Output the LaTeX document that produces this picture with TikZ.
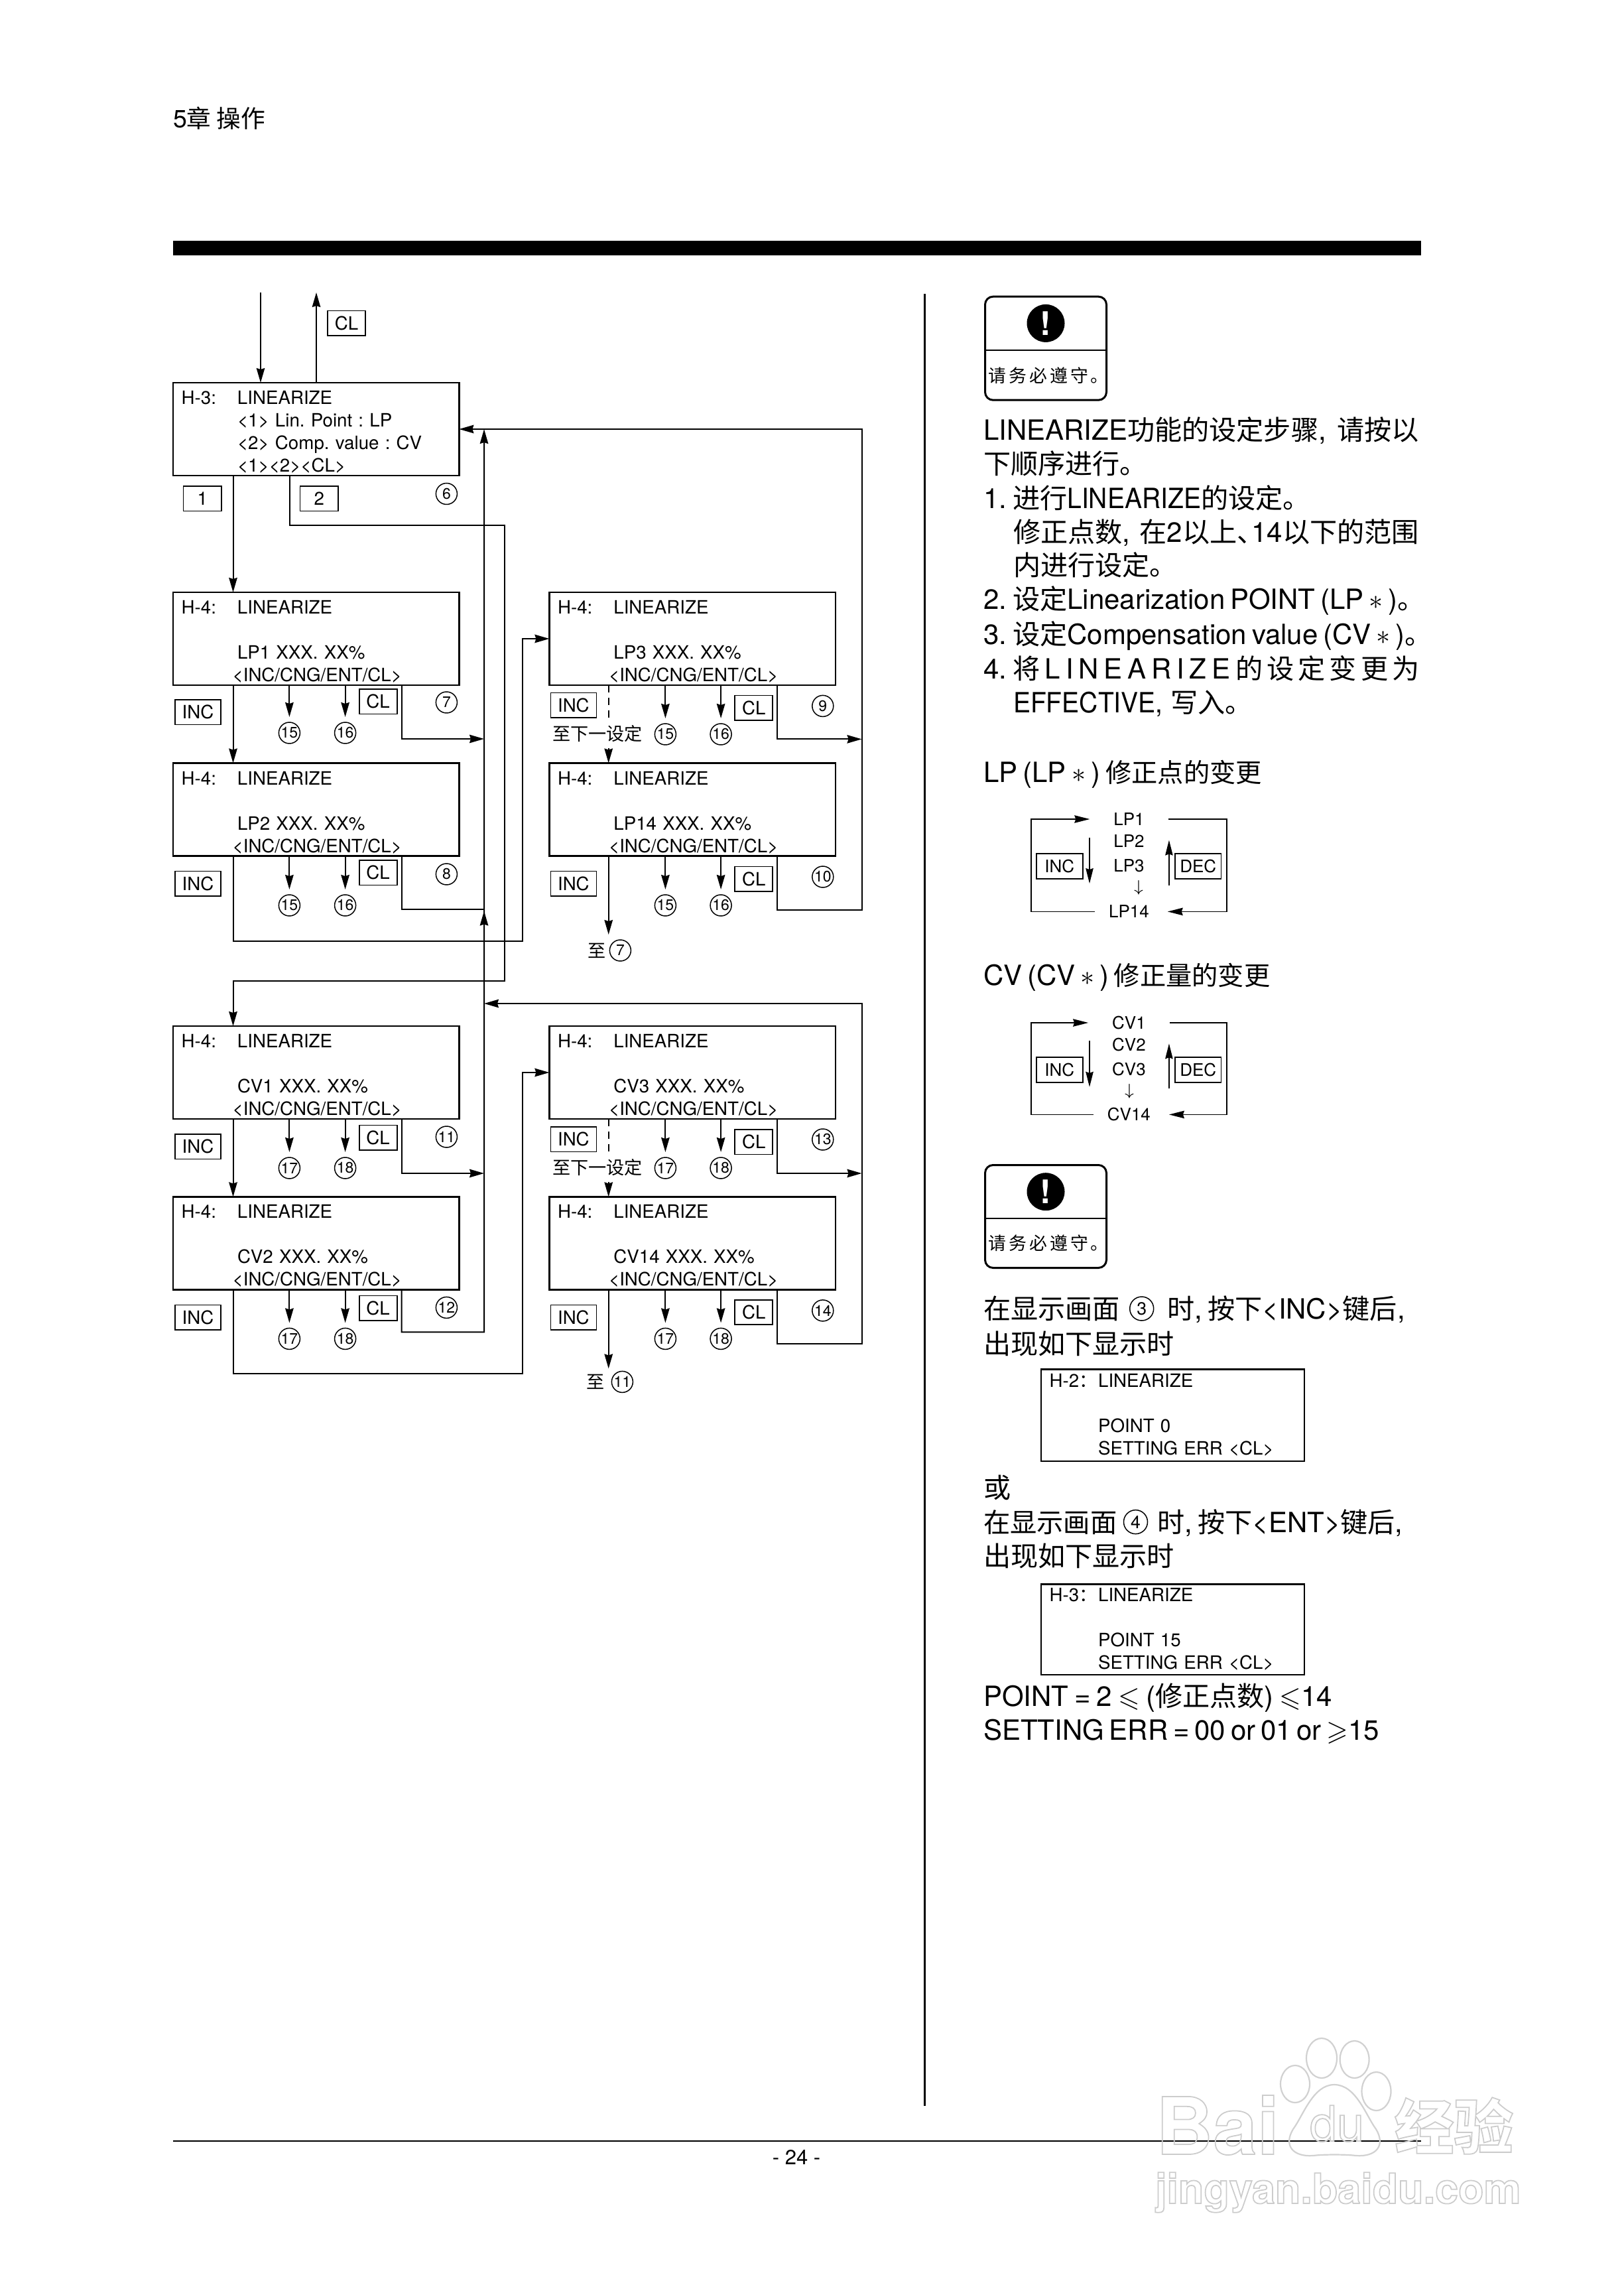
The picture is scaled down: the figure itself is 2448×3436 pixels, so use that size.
\documentclass[tikz,border=0pt]{standalone}
\usepackage{amsmath,amssymb}
\usepackage{fontspec}
\setmainfont{TeX Gyre Heros}
\newfontfamily\condfont[FakeStretch=0.93]{TeX Gyre Heros}
\newfontfamily\cjkfont[Scale=0.98]{Noto Sans CJK SC}
\newcommand{\zh}[1]{{\cjkfont #1}}
\newcommand{\zhs}[1]{{\cjkfont\fontsize{11.4pt}{14pt}\selectfont #1}}
\newcommand{\narrow}[1]{{\condfont #1}}
\newcommand{\fitline}[2]{\makebox[#1][s]{#2}}
\newcommand{\listno}[1]{\makebox[4.4mm][l]{#1}}
\newcommand{\hollow}[1]{\special{pdf:code 1 Tr 0.5 w 0.8 G}#1\special{pdf:code 0 Tr 0 G}}
\usetikzlibrary{arrows.meta,positioning}
\frenchspacing

\begin{document}
\begin{tikzpicture}[
  x=.1mm, y=-.1mm,
  lcdbox/.style={draw, line width=.24mm, inner sep=0pt, inner xsep=1.27mm, outer sep=0pt,
    minimum height=14mm, text width=40.6mm, align=left,
    font=\fontsize{7.88pt}{9.67pt}\selectfont},
  screen/.style={lcdbox, execute at begin node={\rule{0pt}{2.9mm}}},
  errscreen/.style={lcdbox, anchor=north west, text width=37.16mm},
  keybox/.style={draw, line width=.18mm, inner sep=0pt, outer sep=0pt,
    minimum height=3.75mm, font=\fontsize{7.88pt}{9.67pt}\selectfont},
  inckey/.style={keybox, minimum width=6.9mm},
  clkey/.style={keybox, minimum width=5.7mm},
  ringkey/.style={keybox, minimum width=6.96mm, minimum height=3.8mm,
    font=\fontsize{7.4pt}{9pt}\selectfont},
  numcirc/.style={draw, circle, line width=.15mm, inner sep=0pt, outer sep=0pt,
    minimum size=3.2mm, font=\fontsize{6.54pt}{7pt}\selectfont},
  bigcirc/.style={numcirc, minimum size=3.6mm, font=\fontsize{7.6pt}{8pt}\selectfont},
  note/.style={inner sep=0pt, outer sep=0pt, font=\fontsize{7.88pt}{9.67pt}\selectfont},
  ringtext/.style={inner sep=0pt, outer sep=0pt, font=\fontsize{7.4pt}{9pt}\selectfont},
  bodytext/.style={anchor=base west, inner sep=0pt, outer sep=0pt,
    font=\fontsize{11.95pt}{14pt}\selectfont},
  warnbox/.style={draw, line width=.3mm, rounded corners=1.2mm, inner sep=0pt,
    minimum width=18.3mm},
  warnline/.style={line width=.2mm},
  warndot/.style={circle, fill=black, inner sep=0pt, minimum size=5.7mm, text=white,
    font=\bfseries\fontsize{14pt}{14pt}\selectfont},
  warntext/.style={inner sep=0pt, minimum height=2.8mm, font=\fontsize{7.8pt}{9pt}\selectfont},
  flow/.style={-{Stealth[length=2.2mm,width=1.25mm,inset=.2mm]}, line width=.2mm},
  wire/.style={line width=.2mm},
  stub/.style={flow, shorten >=.8mm},
  dashwire/.style={line width=.2mm, dash pattern=on 1.1mm off .8mm},
  ringflow/.style={-{Stealth[length=2.3mm,width=1.15mm,inset=.2mm]}, line width=.13mm},
  wmark/.style={draw=black!18, line width=.22mm}
]
\useasboundingbox (0,0) rectangle (2448,3436);

\node[bodytext, font=\fontsize{10.66pt}{12pt}\selectfont] (chap) at (261,193) {5\zh{章 操作}};
\fill (261,363) rectangle (2143,385);
\draw[line width=.3mm] (1394,443) -- (1394,3175);
\draw[line width=.22mm] (261,3228) -- (2143,3228);
\node[inner sep=0pt, font=\fontsize{8.82pt}{10pt}\selectfont] (pageno) at (1201,3252) {- 24 -};

\coordinate (inleg) at (393,441);
\coordinate (outleg) at (477,441);
\coordinate (cola) at (351.5,0);
\coordinate (colb) at (436.5,0);
\coordinate (colc) at (605.5,0);
\coordinate (cold) at (917.7,0);
\coordinate (cole) at (1171.6,0);
\coordinate (busa) at (730,0);

\node[screen, anchor=north west] (hmenu) at (261,577)
  {\makebox[8.43mm][l]{H-3:}LINEARIZE\\
   \hspace*{8.43mm}<1> Lin. Point : LP\\
   \hspace*{8.43mm}<2> Comp. value : CV\\
   \hspace*{8.43mm}<1><2><CL>};
\node[screen, below=17.6mm of hmenu] (lpa)
  {\makebox[8.43mm][l]{H-4:}LINEARIZE\\[3.4mm]
   \hspace*{8.43mm}LP1 XXX. XX\%\\
   \hspace*{7.7mm}<INC/CNG/ENT/CL>};
\node[screen, below=11.75mm of lpa] (lpb)
  {\makebox[8.43mm][l]{H-4:}LINEARIZE\\[3.4mm]
   \hspace*{8.43mm}LP2 XXX. XX\%\\
   \hspace*{7.7mm}<INC/CNG/ENT/CL>};
\node[screen, right=13.6mm of lpa] (lpc)
  {\makebox[8.43mm][l]{H-4:}LINEARIZE\\[3.4mm]
   \hspace*{8.43mm}LP3 XXX. XX\%\\
   \hspace*{7.7mm}<INC/CNG/ENT/CL>};
\node[screen, below=11.75mm of lpc] (lpd)
  {\makebox[8.43mm][l]{H-4:}LINEARIZE\\[3.4mm]
   \hspace*{8.43mm}LP14 XXX. XX\%\\
   \hspace*{7.7mm}<INC/CNG/ENT/CL>};
\node[screen, anchor=north west] (cva) at (261,1547)
  {\makebox[8.43mm][l]{H-4:}LINEARIZE\\[3.4mm]
   \hspace*{8.43mm}CV1 XXX. XX\%\\
   \hspace*{7.7mm}<INC/CNG/ENT/CL>};
\node[screen, below=11.74mm of cva] (cvb)
  {\makebox[8.43mm][l]{H-4:}LINEARIZE\\[3.4mm]
   \hspace*{8.43mm}CV2 XXX. XX\%\\
   \hspace*{7.7mm}<INC/CNG/ENT/CL>};
\node[screen, right=13.6mm of cva] (cvc)
  {\makebox[8.43mm][l]{H-4:}LINEARIZE\\[3.4mm]
   \hspace*{8.43mm}CV3 XXX. XX\%\\
   \hspace*{7.7mm}<INC/CNG/ENT/CL>};
\node[screen, below=11.74mm of cvc] (cvd)
  {\makebox[8.43mm][l]{H-4:}LINEARIZE\\[3.4mm]
   \hspace*{8.43mm}CV14 XXX. XX\%\\
   \hspace*{7.7mm}<INC/CNG/ENT/CL>};

\node[clkey, anchor=north west] (clmenu) at (494,468.5) {CL};
\node[keybox, minimum width=5.75mm, below right=1.6mm and 1.55mm of hmenu.south west] (keyone) {1};
\node[keybox, minimum width=5.75mm, below right=1.6mm and 19.15mm of hmenu.south west] (keytwo) {2};
\node[numcirc, below=1.15mm of hmenu.south east, xshift=-1.9mm] (scsix) {6};

\node[inckey, below right=2.2mm and .3mm of lpa.south west] (inclpa) {INC};
\node[clkey, below right=.6mm and 28.06mm of lpa.south west] (cllpa) {CL};
\node[numcirc, below=1mm of lpa.south east, xshift=-1.9mm] (scseven) {7};
\node[numcirc, below=5.6mm of lpa.south west, xshift=17.54mm] (gofa) {15};
\node[numcirc, below=5.6mm of lpa.south west, xshift=25.96mm] (gosa) {16};

\node[inckey, below right=2.3mm and .3mm of lpb.south west] (inclpb) {INC};
\node[clkey, below right=.65mm and 28.06mm of lpb.south west] (cllpb) {CL};
\node[numcirc, below=1.15mm of lpb.south east, xshift=-1.9mm] (sceight) {8};
\node[numcirc, below=5.85mm of lpb.south west, xshift=17.54mm] (gofb) {15};
\node[numcirc, below=5.85mm of lpb.south west, xshift=25.96mm] (gosb) {16};

\node[inckey, below right=1.15mm and .2mm of lpc.south west] (inclpc) {INC};
\node[clkey, below right=1.56mm and 27.98mm of lpc.south west] (cllpc) {CL};
\node[numcirc, below=1.54mm of lpc.south east, xshift=-1.9mm] (scnine) {9};
\node[numcirc, below=5.8mm of lpc.south west, xshift=17.5mm] (gofc) {15};
\node[numcirc, below=5.8mm of lpc.south west, xshift=25.87mm] (gosc) {16};
\node[note, minimum height=4.3mm, below right=5.2mm and .5mm of lpc.south west] (nextlp)
  {\zh{至下一设定}};

\node[inckey, below right=2.3mm and .2mm of lpd.south west] (inclpd) {INC};
\node[clkey, below right=1.6mm and 27.98mm of lpd.south west] (cllpd) {CL};
\node[numcirc, below=1.55mm of lpd.south east, xshift=-1.9mm] (scten) {10};
\node[numcirc, below=5.85mm of lpd.south west, xshift=17.5mm] (gofd) {15};
\node[numcirc, below=5.85mm of lpd.south west, xshift=25.87mm] (gosd) {16};
\node[numcirc, below=12.65mm of lpd.south west, xshift=10.7mm] (backlp) {7};
\node[note, left=.6mm of backlp] (backlpz) {\zh{至}};

\node[inckey, below right=2.3mm and .3mm of cva.south west] (inccva) {INC};
\node[clkey, below right=.95mm and 28.06mm of cva.south west] (clcva) {CL};
\node[numcirc, below=1.1mm of cva.south east, xshift=-1.9mm] (sceleven) {11};
\node[numcirc, below=5.8mm of cva.south west, xshift=17.54mm] (gofe) {17};
\node[numcirc, below=5.8mm of cva.south west, xshift=25.96mm] (gose) {18};

\node[inckey, below right=2.3mm and .3mm of cvb.south west] (inccvb) {INC};
\node[clkey, below right=.9mm and 28.06mm of cvb.south west] (clcvb) {CL};
\node[numcirc, below=1.1mm of cvb.south east, xshift=-1.9mm] (sctwelve) {12};
\node[numcirc, below=5.8mm of cvb.south west, xshift=17.54mm] (goff) {17};
\node[numcirc, below=5.8mm of cvb.south west, xshift=25.96mm] (gosf) {18};

\node[inckey, below right=1.2mm and .2mm of cvc.south west] (inccvc) {INC};
\node[clkey, below right=1.6mm and 27.98mm of cvc.south west] (clcvc) {CL};
\node[numcirc, below=1.5mm of cvc.south east, xshift=-1.9mm] (scthirteen) {13};
\node[numcirc, below=5.8mm of cvc.south west, xshift=17.5mm] (gofg) {17};
\node[numcirc, below=5.8mm of cvc.south west, xshift=25.87mm] (gosg) {18};
\node[note, minimum height=4.3mm, below right=5.2mm and .5mm of cvc.south west] (nextcv)
  {\zh{至下一设定}};

\node[inckey, below right=2.3mm and .2mm of cvd.south west] (inccvd) {INC};
\node[clkey, below right=1.54mm and 27.98mm of cvd.south west] (clcvd) {CL};
\node[numcirc, below=1.55mm of cvd.south east, xshift=-1.9mm] (scfourteen) {14};
\node[numcirc, below=5.8mm of cvd.south west, xshift=17.5mm] (gofh) {17};
\node[numcirc, below=5.8mm of cvd.south west, xshift=25.87mm] (gosh) {18};
\node[numcirc, below=12.3mm of cvd.south west, xshift=11mm] (backcv) {11};
\node[note, left=1.1mm of backcv] (backcvz) {\zh{至}};

\draw[flow] (inleg) -- (inleg |- hmenu.north);
\draw[flow] (outleg |- hmenu.north) -- (outleg);
\draw[flow] (cola |- hmenu.south) -- (cola |- lpa.north);
\draw[flow] (colb |- hmenu.south) -- ++(0,75) -- ++(324,0) -- ++(0,687) -| (cva.north -| cola);
\draw[flow] (cola |- lpa.south) -- (cola |- lpb.north);
\draw[flow] (cola |- cva.south) -- (cola |- cvb.north);
\draw[flow] (cola |- lpb.south) -- ++(0,128.5) -- ++(436.5,0) |- (lpc.west);
\draw[flow] (cola |- cvb.south) -- ++(0,127) -- ++(436.5,0) |- (cvc.west);

\draw[stub] (gofa.north |- lpa.south) -- (gofa);
\draw[stub] (gosa.north |- lpa.south) -- (gosa);
\draw[stub] (gofb.north |- lpb.south) -- (gofb);
\draw[stub] (gosb.north |- lpb.south) -- (gosb);
\draw[stub] (gofc.north |- lpc.south) -- (gofc);
\draw[stub] (gosc.north |- lpc.south) -- (gosc);
\draw[stub] (gofd.north |- lpd.south) -- (gofd);
\draw[stub] (gosd.north |- lpd.south) -- (gosd);
\draw[stub] (gofe.north |- cva.south) -- (gofe);
\draw[stub] (gose.north |- cva.south) -- (gose);
\draw[stub] (goff.north |- cvb.south) -- (goff);
\draw[stub] (gosf.north |- cvb.south) -- (gosf);
\draw[stub] (gofg.north |- cvc.south) -- (gofg);
\draw[stub] (gosg.north |- cvc.south) -- (gosg);
\draw[stub] (gofh.north |- cvd.south) -- (gofh);
\draw[stub] (gosh.north |- cvd.south) -- (gosh);

\draw[dashwire] (cold |- lpc.south) -- (cold |- nextlp.north);
\draw[flow, dash pattern=on 1.1mm off .8mm] (cold |- nextlp.south) -- (cold |- lpd.north);
\draw[dashwire] (cold |- cvc.south) -- (cold |- nextcv.north);
\draw[flow, dash pattern=on 1.1mm off .8mm] (cold |- nextcv.south) -- (cold |- cvd.north);
\draw[flow] (cold |- lpd.south) -- ++(0,118.5);
\draw[flow] (cold |- cvd.south) -- ++(0,119);

\draw[flow] (colc |- lpa.south) -- ++(0,81) -- ++(124.5,0);
\draw[wire] (colc |- lpb.south) -- ++(0,81) -- ++(124.5,0);
\draw[flow] (colc |- cva.south) -- ++(0,82) -- ++(124.5,0);
\draw[flow] (colc |- cvb.south) -- ++(0,64) -- ++(124.5,0) -- (busa |- hmenu.east);
\draw[flow] (busa |- lpb.south) ++(0,112) -- ++(0,-29);

\draw[flow] (cole |- lpc.south) -- ++(0,81.4) -- ++(127.9,0);
\draw[flow] (cole |- lpd.south) -- ++(0,82) -- ++(127.9,0) |- (hmenu.east);
\draw[flow] (cole |- cvc.south) -- ++(0,82) -- ++(127.9,0);
\draw[flow] (cole |- cvd.south) -- ++(0,81.4) -- ++(127.9,0) |- (busa |- 0,1513);

\node[warnbox, minimum height=15.6mm, anchor=north west] (warna) at (1484,445.7) {};
\draw[warnline] ([yshift=-.3mm]warna.west) -- ([yshift=-.3mm]warna.east);
\node[warndot, below=1.25mm of warna.north] (warnadot) {!};
\node[warntext, above=2.4mm of warna.south] (warnatext)
  {\fitline{17.3mm}{\zh{请 务 必 遵 守 。}}};

\node[bodytext] (ba) at (1483,664) {\fitline{65.7mm}{LINEARIZE\zh{功能的设定步骤}, \zh{请按以}}};
\node[bodytext] (bb) at (1483,715) {\zh{下顺序进行。}};
\node[bodytext] (bc) at (1483,767) {\listno{1.}\zh{进行}\narrow{LINEARIZE}\zh{的设定。}};
\node[bodytext] (bd) at (1528,818) {\fitline{61.2mm}{\zh{修正点数}, \zh{在}2\zh{以上\makebox[2.2mm][l]{、}}14\zh{以下的范围}}};
\node[bodytext] (be) at (1528,868) {\zh{内进行设定。}};
\node[bodytext] (bf) at (1483,919) {\fitline{63.8mm}{\listno{2.}\zh{设定}Linearization POINT (LP $*$ )\zh{。}}};
\node[bodytext] (bg) at (1483,971) {\fitline{63.8mm}{\listno{3.}\zh{设定}Compensation value (CV $*$ )\zh{。}}};
\node[bodytext] (bh) at (1483,1023) {\fitline{65.7mm}{\listno{4.}\zh{将} L I N E A R I Z E \zh{的 设 定 变 更 为}}};
\node[bodytext] (bi) at (1528,1074) {\narrow{EFFECTIVE,} \zh{写入。}};

\node[bodytext] (lphead) at (1483,1179) {\fitline{42mm}{LP (LP $*$ ) \zhs{修正点的变更}}};
\node[ringtext] (lpra) at (1702.4,1235) {LP1};
\node[ringtext] (lprb) at (1702.4,1268) {LP2};
\node[ringtext] (lprc) at (1702.4,1305.6) {LP3};
\node[ringtext] (lprd) at (1717,1338) {$\downarrow$};
\node[ringtext] (lpre) at (1702.4,1374.4) {LP14};
\node[ringkey] (lpinc) at (1597.8,1306) {INC};
\node[ringkey] (lpdec) at (1806.7,1306) {DEC};
\coordinate (ringl) at (1555,0);
\coordinate (ringr) at (1850,0);
\draw[ringflow] ([xshift=-2.1mm]lpre.west) -| (ringl |- lpra.west) -- ([xshift=-3.6mm]lpra.west);
\draw[ringflow] ([xshift=3.6mm]lpra.east) -| (ringr |- lpre.east) -- ([xshift=2.8mm]lpre.east);
\draw[ringflow] ([shift={(1.04mm,2.45mm)}]lpinc.north east) -- ([shift={(1.04mm,-.7mm)}]lpinc.south east);
\draw[ringflow] ([shift={(-.9mm,-.96mm)}]lpdec.south west) -- ([shift={(-.9mm,2.04mm)}]lpdec.north west);

\node[bodytext] (cvhead) at (1483,1485) {\fitline{43.2mm}{CV (CV $*$ ) \zhs{修正量的变更}}};
\node[ringtext] (cvra) at (1702.4,1542) {CV1};
\node[ringtext] (cvrb) at (1702.4,1575) {CV2};
\node[ringtext] (cvrc) at (1702.4,1611.6) {CV3};
\node[ringtext] (cvrd) at (1703,1645) {$\downarrow$};
\node[ringtext] (cvre) at (1702.4,1680.4) {CV14};
\node[ringkey] (cvinc) at (1597.8,1612.8) {INC};
\node[ringkey] (cvdec) at (1806.7,1612.8) {DEC};
\draw[ringflow] ([xshift=-2.1mm]cvre.west) -| (ringl |- cvra.west) -- ([xshift=-3.6mm]cvra.west);
\draw[ringflow] ([xshift=3.6mm]cvra.east) -| (ringr |- cvre.east) -- ([xshift=2.8mm]cvre.east);
\draw[ringflow] ([shift={(1.04mm,2.45mm)}]cvinc.north east) -- ([shift={(1.04mm,-.7mm)}]cvinc.south east);
\draw[ringflow] ([shift={(-.9mm,-.96mm)}]cvdec.south west) -- ([shift={(-.9mm,2.04mm)}]cvdec.north west);

\node[warnbox, minimum height=15.5mm, anchor=north west] (warnb) at (1484,1755) {};
\draw[warnline] ([yshift=-.3mm]warnb.west) -- ([yshift=-.3mm]warnb.east);
\node[warndot, below=1.25mm of warnb.north] (warnbdot) {!};
\node[warntext, above=2.4mm of warnb.south] (warnbtext)
  {\fitline{17.3mm}{\zh{请 务 必 遵 守 。}}};

\node[bodytext] (ca) at (1483,1988) {\zh{在显示画面}};
\node[bigcirc] (ccirc) at (1721.7,1973) {3};
\node[bodytext] (cb) at (1760.7,1988) {\fitline{35.6mm}{\zh{时}, \zh{按下}<INC>\zh{键后},}};
\node[bodytext] (cc) at (1483,2041) {\zh{出现如下显示时}};
\node[errscreen, minimum height=13.85mm] (errlow) at (1570,2064.5)
  {\makebox[7.34mm][l]{H-2\zh{：}}LINEARIZE\\[3.4mm]
   \hspace*{7.34mm}POINT 0\\
   \hspace*{7.34mm}SETTING ERR <CL>};
\node[bodytext] (cd) at (1483,2258) {\zh{或}};
\node[bodytext] (ce) at (1483,2310) {{\cjkfont\fontsize{11.7pt}{14pt}\selectfont 在显示画面}};
\node[bigcirc] (dcirc) at (1712.5,2294.6) {4};
\node[bodytext] (cf) at (1745.6,2310) {\fitline{35.5mm}{\zh{时}, \zh{按下}<ENT>\zh{键后},}};
\node[bodytext] (cg) at (1483,2361) {\zh{出现如下显示时}};
\node[errscreen, minimum height=13.65mm] (errhigh) at (1570,2388.5)
  {\makebox[7.34mm][l]{H-3\zh{：}}LINEARIZE\\[3.4mm]
   \hspace*{7.34mm}POINT 15\\
   \hspace*{7.34mm}SETTING ERR <CL>};
\node[bodytext] (ch) at (1483,2572) {\fitline{52.6mm}{POINT = 2 $\leqslant$ (\zh{修正点数}) $\leqslant$14}};
\node[bodytext] (ci) at (1483,2623.5) {\fitline{59.5mm}{SETTING ERR = 00 or 01 or $\geqslant$15}};

\draw[wmark] (1993,3103) ellipse (23 and 30);
\draw[wmark] (2042.6,3105) ellipse (22 and 28);
\draw[wmark] (1953,3142) ellipse (22 and 28);
\draw[wmark] (2075.5,3153) ellipse (22 and 29);
\draw[wmark] (2012,3143) .. controls (2045,3143) and (2060,3190) .. (2075,3210)
  .. controls (2090,3235) and (2075,3252) .. (2045,3250)
  .. controls (2030,3248) and (1995,3248) .. (1980,3250)
  .. controls (1950,3252) and (1935,3235) .. (1950,3210)
  .. controls (1965,3190) and (1980,3143) .. (2012,3143) -- cycle;
\node[bodytext, font=\bfseries\fontsize{34pt}{36pt}\selectfont] (wmbai) at (1743,3248) {\hollow{Bai}};
\node[bodytext, font=\fontsize{21pt}{22pt}\selectfont] (wmdu) at (1975,3228) {\hollow{du}};
\node[bodytext, font=\bfseries\fontsize{26pt}{27pt}\selectfont] (wmjy) at (2103,3240) {\hollow{\zh{经验}}};
\node[bodytext, font=\bfseries\fontsize{17.9pt}{20pt}\selectfont] (wmurl) at (1742,3322) {\hollow{jingyan.baidu.com}};
\end{tikzpicture}
\end{document}
